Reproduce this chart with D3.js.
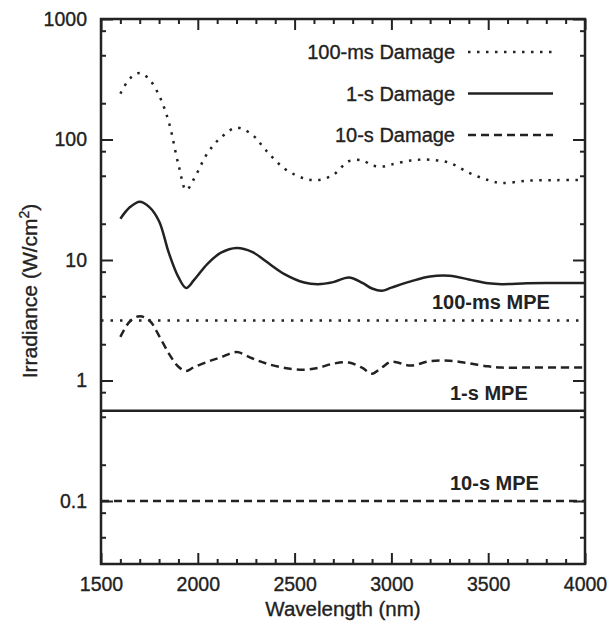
<!DOCTYPE html>
<html>
<head>
<meta charset="utf-8">
<script src="https://cdn.jsdelivr.net/npm/d3@7"></script>
<style>
  body { margin: 0; background: #fff; }
  text { font-family: "Liberation Sans", Arial, Helvetica, sans-serif; fill: #222; }
  .thick { stroke: #222; stroke-width: 0.35px; }
</style>
</head>
<body>
<svg id="chart"></svg>
<script>
// wavelength grid (nm)
var wavelength = [1600, 1650, 1700, 1750, 1800, 1850, 1900, 1940, 1980, 2050, 2120, 2200, 2280, 2350, 2450, 2550,
                  2620, 2700, 2780, 2850, 2900, 2950, 3000, 3100, 3200, 3300, 3400, 3500, 3570, 3700, 3850, 4000];

// damage thresholds (W/cm^2)
var damage100ms = [240, 322, 356, 315, 232, 140, 62, 38, 47, 77, 104, 125, 110, 82, 57, 47.5,
                   46, 51, 66, 67, 61, 59.5, 62, 67, 68, 64, 53, 46, 43.5, 45.5, 46, 46];
var damage1s    = [22, 27.5, 30.5, 27.5, 21, 11.5, 7.2, 5.85, 6.8, 9.3, 11.5, 12.6, 11.7, 9.8, 7.6, 6.5,
                   6.3, 6.55, 7.15, 6.45, 5.8, 5.55, 5.9, 6.65, 7.3, 7.4, 6.9, 6.4, 6.3, 6.4, 6.45, 6.45];
var damage10s   = [2.3, 3.1, 3.42, 3.15, 2.35, 1.68, 1.3, 1.2, 1.29, 1.43, 1.56, 1.72, 1.53, 1.39, 1.27, 1.23,
                   1.27, 1.38, 1.41, 1.27, 1.14, 1.28, 1.43, 1.33, 1.45, 1.46, 1.39, 1.31, 1.28, 1.28, 1.28, 1.28];

// MPE levels (W/cm^2)
var mpeNames  = ['100-ms MPE', '1-s MPE', '10-s MPE'];
var mpeValues = [3.15, 0.56, 0.1];

var xMajorTicks = [1500, 2000, 2500, 3000, 3500, 4000];
var xMinorTicks = [1600, 1700, 1800, 1900, 2100, 2200, 2300, 2400, 2600, 2700, 2800, 2900,
                   3100, 3200, 3300, 3400, 3600, 3700, 3800, 3900];
var yMajorTicks = [0.1, 1, 10, 100, 1000];
var yMinorTicks = [0.05, 0.08, 0.2, 0.5, 0.8, 2, 5, 8, 20, 50, 80, 200, 500, 800];

var W = 613, H = 629;
var margin = {left: 101, top: 19, right: 28, bottom: 65};
var w = W - margin.left - margin.right, h = H - margin.top - margin.bottom;

var svg = d3.select('#chart').attr('width', W).attr('height', H);
var g = svg.append('g').attr('transform', 'translate(' + margin.left + ',' + margin.top + ')');

var x = d3.scaleLinear().domain([1500, 4000]).range([0, w]);
var y = d3.scaleLog().domain([0.03, 1000]).range([h, 0]);

g.append('clipPath').attr('id', 'clip')
    .append('rect').attr('width', w).attr('height', h);

// axes: major + minor ticks, all pointing inward, on four sides
function styleAxis(sel) {
    sel.select('.domain').remove();
    sel.selectAll('.tick line').attr('stroke', '#222').attr('stroke-width', 2);
    sel.selectAll('.tick text').style('font-size', '19.5px').attr('fill', '#222').attr('class', 'thick');
}

g.append('g').attr('transform', 'translate(0,' + h + ')')
    .call(d3.axisBottom(x).tickValues(xMajorTicks).tickSizeInner(-11).tickSizeOuter(0).tickPadding(13).tickFormat(d3.format('d')))
    .call(styleAxis);
g.append('g').attr('transform', 'translate(0,' + h + ')')
    .call(d3.axisBottom(x).tickValues(xMinorTicks).tickSize(-5).tickFormat(''))
    .call(styleAxis);
g.append('g')
    .call(d3.axisTop(x).tickValues(xMajorTicks).tickSize(-11).tickFormat(''))
    .call(styleAxis);
g.append('g')
    .call(d3.axisTop(x).tickValues(xMinorTicks).tickSize(-5).tickFormat(''))
    .call(styleAxis);

g.append('g')
    .call(d3.axisLeft(y).tickValues(yMajorTicks).tickSizeInner(-12).tickSizeOuter(0).tickPadding(14).tickFormat(function(d) { return d; }))
    .call(styleAxis);
g.append('g')
    .call(d3.axisLeft(y).tickValues(yMinorTicks).tickSize(-5).tickFormat(''))
    .call(styleAxis);
g.append('g').attr('transform', 'translate(' + w + ',0)')
    .call(d3.axisRight(y).tickValues(yMajorTicks).tickSize(-12).tickFormat(''))
    .call(styleAxis);
g.append('g').attr('transform', 'translate(' + w + ',0)')
    .call(d3.axisRight(y).tickValues(yMinorTicks).tickSize(-5).tickFormat(''))
    .call(styleAxis);

// frame
g.append('rect')
    .attr('width', w).attr('height', h)
    .attr('fill', 'none').attr('stroke', '#222').attr('stroke-width', 2.5);

// damage curves
var series = [
    {name: '100-ms Damage', values: damage100ms, dash: '2.5,6.5'},
    {name: '1-s Damage', values: damage1s, dash: null},
    {name: '10-s Damage', values: damage10s, dash: '8,5'}
];

var line = d3.line()
    .x(function(d) { return x(d[0]); })
    .y(function(d) { return y(d[1]); })
    .curve(d3.curveCatmullRom.alpha(0.5));

var plot = g.append('g').attr('clip-path', 'url(#clip)');

series.forEach(function(s) {
    plot.append('path')
        .datum(d3.zip(wavelength, s.values))
        .attr('d', line)
        .attr('fill', 'none')
        .attr('stroke', '#222')
        .attr('stroke-width', 2.5)
        .attr('stroke-dasharray', s.dash);
});

// MPE levels
var mpeDash = ['2.5,7', null, '8,5'];
var mpeLabelX = [432, 450, 450];
mpeValues.forEach(function(v, i) {
    plot.append('line')
        .attr('x1', 0).attr('x2', w)
        .attr('y1', y(v)).attr('y2', y(v))
        .attr('stroke', '#222')
        .attr('stroke-width', 2.5)
        .attr('stroke-dasharray', mpeDash[i]);
    g.append('text')
        .attr('x', mpeLabelX[i] - margin.left)
        .attr('y', y(v) - 11)
        .style('font-size', '20px')
        .style('font-weight', 'bold')
        .text(mpeNames[i]);
});

// legend
var legend = g.append('g').attr('transform', 'translate(' + (455 - margin.left) + ',' + (52 - margin.top) + ')');
series.forEach(function(s, i) {
    legend.append('text')
        .attr('class', 'thick')
        .attr('x', 0).attr('y', i * 41.5)
        .attr('dy', '0.35em')
        .attr('text-anchor', 'end')
        .style('font-size', '20px')
        .text(s.name);
    legend.append('line')
        .attr('x1', 13).attr('x2', 98)
        .attr('y1', i * 41.5).attr('y2', i * 41.5)
        .attr('stroke', '#222')
        .attr('stroke-width', 2.5)
        .attr('stroke-dasharray', s.dash);
});

// axis titles
svg.append('text')
    .attr('class', 'thick')
    .attr('x', margin.left + w / 2)
    .attr('y', 616)
    .attr('text-anchor', 'middle')
    .style('font-size', '20.5px')
    .text('Wavelength (nm)');

var yt = svg.append('text')
    .attr('class', 'thick')
    .attr('transform', 'translate(37,291) rotate(-90)')
    .attr('text-anchor', 'middle')
    .style('font-size', '21px');
yt.append('tspan').text('Irradiance (W/cm');
yt.append('tspan').attr('dy', -8).style('font-size', '14px').text('2');
yt.append('tspan').attr('dy', 8).text(')');
</script>
</body>
</html>
